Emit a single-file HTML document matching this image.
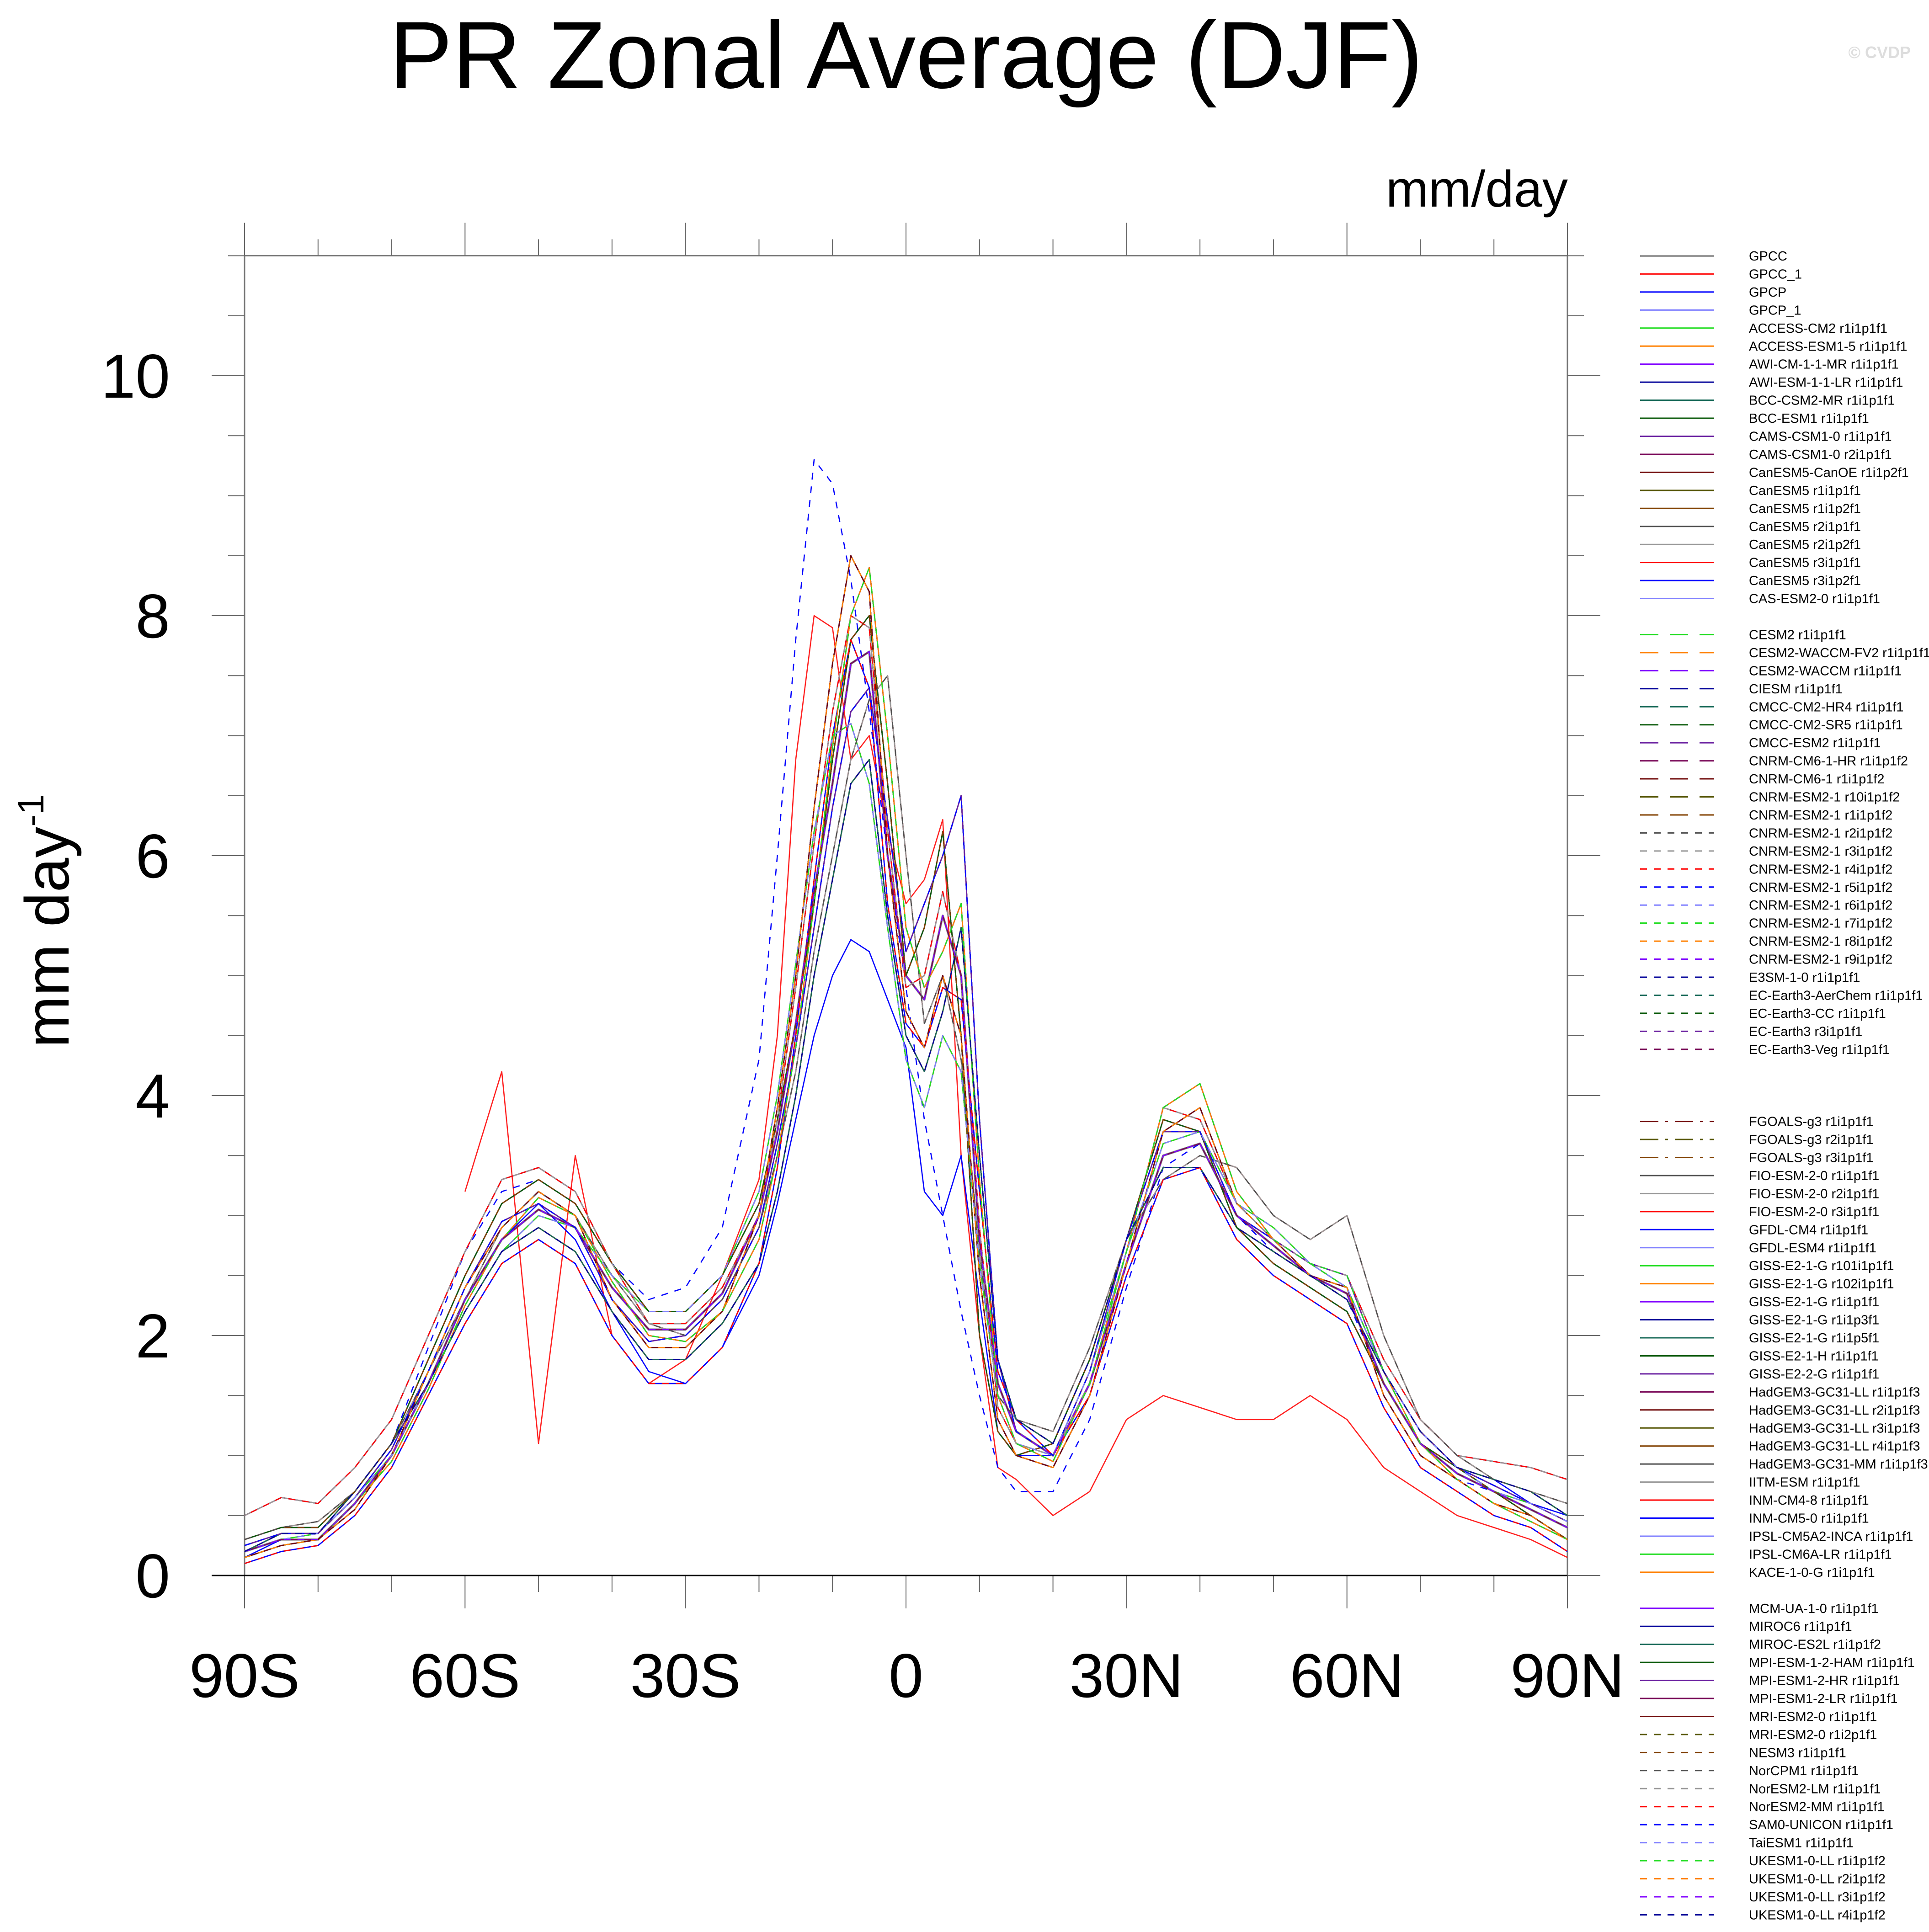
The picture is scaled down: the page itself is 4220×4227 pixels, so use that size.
<!DOCTYPE html>
<html><head><meta charset="utf-8"><style>
html,body{margin:0;padding:0;background:#fff;}
svg{display:block;}
text{font-family:"Liberation Sans",sans-serif;}
.leg{font-family:"Liberation Sans Narrow","Liberation Sans",sans-serif;font-size:29px;}
</style></head><body>
<svg id="chart" width="4220" height="4227" viewBox="0 0 4220 4227">
<text x="1982" y="192" text-anchor="middle" font-size="208">PR Zonal Average (DJF)</text>
<text x="4180" y="127" text-anchor="end" font-size="36" font-weight="bold" fill="#dddddd">© CVDP</text>
<text x="3430" y="452" text-anchor="end" font-size="112">mm/day</text>
<text transform="translate(150,2015) rotate(-90)" text-anchor="middle" font-size="136">mm day<tspan dy="-55" font-size="80">-1</tspan></text>
<g id="axes"></g>
<g id="series"></g>
<g id="legend"></g>
</svg>
<script>
const lats=[-90,-85,-80,-75,-70,-65,-60,-55,-50,-45,-40,-35,-30,-25,-20,-17.5,-15,-12.5,-10,-7.5,-5,-2.5,0,2.5,5,7.5,10,12.5,15,20,25,30,35,40,45,50,55,60,65,70,75,80,85,90];
const sA=[0.2,0.3,0.3,0.6,1.0,1.6,2.3,2.8,3.05,2.9,2.4,2.05,2.05,2.35,3.0,3.7,4.6,5.7,6.6,7.6,7.7,6.0,5.0,4.8,5.5,5.0,2.8,1.6,1.2,1.0,1.6,2.6,3.5,3.6,3.0,2.75,2.5,2.35,1.6,1.1,0.85,0.7,0.55,0.4];
const sB=[0.15,0.25,0.3,0.55,1.0,1.7,2.4,2.9,3.2,3.0,2.3,1.9,1.9,2.2,3.0,3.9,5.0,6.4,7.6,8.5,8.2,6.0,4.7,4.4,5.0,4.5,2.5,1.3,1.0,0.9,1.5,2.6,3.7,3.9,3.1,2.8,2.5,2.4,1.5,1.0,0.8,0.6,0.5,0.3];
const sC=[0.2,0.35,0.35,0.7,1.1,1.6,2.2,2.7,2.9,2.7,2.2,1.8,1.8,2.1,2.6,3.2,4.0,5.0,5.8,6.6,6.8,5.5,4.5,4.2,4.7,5.4,3.5,1.8,1.3,1.1,1.8,2.8,3.4,3.4,2.9,2.7,2.5,2.3,1.7,1.2,0.9,0.8,0.7,0.5];
const sD=[0.3,0.4,0.4,0.7,1.1,1.8,2.5,3.1,3.3,3.1,2.6,2.2,2.2,2.5,3.1,3.8,4.6,5.6,6.8,7.8,8.0,6.6,5.0,5.4,6.2,4.5,2.0,1.2,1.0,1.1,1.8,2.8,3.8,3.7,2.9,2.6,2.4,2.2,1.6,1.1,0.9,0.7,0.5,0.3];
const sE=[0.15,0.3,0.3,0.6,1.0,1.6,2.3,2.8,3.1,2.8,2.2,1.7,1.6,1.9,2.5,3.1,3.8,4.5,5.0,5.3,5.2,4.8,4.4,3.2,3.0,3.5,2.3,1.2,1.0,1.0,1.6,2.6,3.5,3.6,3.0,2.8,2.6,2.4,1.7,1.2,0.9,0.8,0.6,0.5];
const sF=[0.2,0.3,0.35,0.7,1.1,1.9,2.7,3.2,3.3,3.1,2.6,2.3,2.4,2.9,4.3,6.0,7.8,9.3,9.1,8.3,7.2,6.0,4.9,3.8,3.0,2.2,1.5,0.9,0.7,0.7,1.3,2.4,3.4,3.6,3.0,2.7,2.5,2.3,1.6,1.1,0.8,0.7,0.6,0.5];
const sG=[null,null,null,null,null,null,3.2,4.2,1.1,3.5,2.0,1.6,1.8,2.5,3.3,4.5,6.8,8.0,7.9,6.8,7.0,6.2,5.6,5.8,6.3,3.5,2.0,0.9,0.8,0.5,0.7,1.3,1.5,1.4,1.3,1.3,1.5,1.3,0.9,0.7,0.5,0.4,0.3,0.15];
const sH=[0.3,0.4,0.45,0.7,1.1,1.7,2.3,2.9,3.2,3.0,2.5,2.1,2.0,2.3,2.9,3.5,4.2,5.2,6.0,6.8,7.3,7.5,6.0,4.6,5.0,4.3,2.7,1.5,1.3,1.2,1.9,2.8,3.3,3.5,3.4,3.0,2.8,3.0,2.0,1.3,1.0,0.8,0.7,0.6];
const sI=[0.5,0.65,0.6,0.9,1.3,2.0,2.7,3.3,3.4,3.2,2.6,2.1,2.1,2.4,3.0,3.8,4.9,6.1,7.2,8.0,7.9,6.2,4.9,5.0,5.7,5.0,2.9,1.4,1.1,1.0,1.6,2.7,3.9,3.8,3.1,2.8,2.6,2.5,1.8,1.3,1.0,0.95,0.9,0.8];
const sJ=[0.1,0.2,0.25,0.5,0.9,1.5,2.1,2.6,2.8,2.6,2.0,1.6,1.6,1.9,2.6,3.4,4.5,5.8,7.0,7.8,7.4,5.6,4.6,4.4,4.9,4.8,3.2,1.7,1.3,1.0,1.5,2.5,3.3,3.4,2.8,2.5,2.3,2.1,1.4,0.9,0.7,0.5,0.4,0.2];
const sK=[0.25,0.35,0.35,0.65,1.05,1.7,2.4,2.95,3.1,2.9,2.3,1.95,2.0,2.3,2.9,3.6,4.4,5.4,6.4,7.2,7.4,6.3,5.2,5.6,6.0,6.5,3.8,1.8,1.2,1.0,1.7,2.8,3.7,3.7,3.0,2.8,2.6,2.5,1.7,1.2,0.9,0.75,0.6,0.45];
const sL=[0.2,0.3,0.35,0.65,1.0,1.6,2.2,2.7,3.0,2.9,2.5,2.2,2.2,2.5,3.2,4.0,5.1,6.2,7.0,7.1,6.6,5.4,4.3,3.9,4.5,4.2,2.6,1.5,1.1,1.0,1.7,2.7,3.6,3.7,3.1,2.9,2.6,2.4,1.7,1.2,0.9,0.7,0.6,0.45];
const sM=[0.15,0.25,0.3,0.6,0.95,1.55,2.25,2.8,3.15,3.0,2.45,2.0,1.95,2.2,2.8,3.5,4.4,5.6,6.9,8.0,8.4,7.0,5.4,4.9,5.2,5.6,3.3,1.5,1.1,0.95,1.6,2.7,3.9,4.1,3.2,2.8,2.6,2.5,1.7,1.1,0.8,0.6,0.45,0.3];
const sZ=[0.02,0.02,0.02,0.02,0.02,0.02,0.02,0.02,0.02,0.02,0.02,0.02,0.02,0.02,0.02,0.02,0.02,0.02,0.02,0.02,0.02,0.02,0.02,0.02,0.02,0.02,0.02,0.02,0.02,0.02,0.02,0.02,0.02,0.02,0.02,0.02,0.02,0.02,0.02,0.02,0.02,0.02,0.02,0.02];
const modelNames=["GPCC","GPCC_1","GPCP","GPCP_1","ACCESS-CM2 r1i1p1f1","ACCESS-ESM1-5 r1i1p1f1","AWI-CM-1-1-MR r1i1p1f1","AWI-ESM-1-1-LR r1i1p1f1","BCC-CSM2-MR r1i1p1f1","BCC-ESM1 r1i1p1f1","CAMS-CSM1-0 r1i1p1f1","CAMS-CSM1-0 r2i1p1f1","CanESM5-CanOE r1i1p2f1","CanESM5 r1i1p1f1","CanESM5 r1i1p2f1","CanESM5 r2i1p1f1","CanESM5 r2i1p2f1","CanESM5 r3i1p1f1","CanESM5 r3i1p2f1","CAS-ESM2-0 r1i1p1f1",
"CESM2 r1i1p1f1","CESM2-WACCM-FV2 r1i1p1f1","CESM2-WACCM r1i1p1f1","CIESM r1i1p1f1","CMCC-CM2-HR4 r1i1p1f1","CMCC-CM2-SR5 r1i1p1f1","CMCC-ESM2 r1i1p1f1","CNRM-CM6-1-HR r1i1p1f2","CNRM-CM6-1 r1i1p1f2","CNRM-ESM2-1 r10i1p1f2","CNRM-ESM2-1 r1i1p1f2","CNRM-ESM2-1 r2i1p1f2","CNRM-ESM2-1 r3i1p1f2","CNRM-ESM2-1 r4i1p1f2","CNRM-ESM2-1 r5i1p1f2","CNRM-ESM2-1 r6i1p1f2","CNRM-ESM2-1 r7i1p1f2","CNRM-ESM2-1 r8i1p1f2","CNRM-ESM2-1 r9i1p1f2","E3SM-1-0 r1i1p1f1","EC-Earth3-AerChem r1i1p1f1","EC-Earth3-CC r1i1p1f1","EC-Earth3 r3i1p1f1","EC-Earth3-Veg r1i1p1f1",
"FGOALS-g3 r1i1p1f1","FGOALS-g3 r2i1p1f1","FGOALS-g3 r3i1p1f1","FIO-ESM-2-0 r1i1p1f1","FIO-ESM-2-0 r2i1p1f1","FIO-ESM-2-0 r3i1p1f1","GFDL-CM4 r1i1p1f1","GFDL-ESM4 r1i1p1f1","GISS-E2-1-G r101i1p1f1","GISS-E2-1-G r102i1p1f1","GISS-E2-1-G r1i1p1f1","GISS-E2-1-G r1i1p3f1","GISS-E2-1-G r1i1p5f1","GISS-E2-1-H r1i1p1f1","GISS-E2-2-G r1i1p1f1","HadGEM3-GC31-LL r1i1p1f3","HadGEM3-GC31-LL r2i1p1f3","HadGEM3-GC31-LL r3i1p1f3","HadGEM3-GC31-LL r4i1p1f3","HadGEM3-GC31-MM r1i1p1f3","IITM-ESM r1i1p1f1","INM-CM4-8 r1i1p1f1","INM-CM5-0 r1i1p1f1","IPSL-CM5A2-INCA r1i1p1f1","IPSL-CM6A-LR r1i1p1f1","KACE-1-0-G r1i1p1f1",
"MCM-UA-1-0 r1i1p1f1","MIROC6 r1i1p1f1","MIROC-ES2L r1i1p1f2","MPI-ESM-1-2-HAM r1i1p1f1","MPI-ESM1-2-HR r1i1p1f1","MPI-ESM1-2-LR r1i1p1f1","MRI-ESM2-0 r1i1p1f1","MRI-ESM2-0 r1i2p1f1","NESM3 r1i1p1f1","NorCPM1 r1i1p1f1","NorESM2-LM r1i1p1f1","NorESM2-MM r1i1p1f1","SAM0-UNICON r1i1p1f1","TaiESM1 r1i1p1f1","UKESM1-0-LL r1i1p1f2","UKESM1-0-LL r2i1p1f2","UKESM1-0-LL r3i1p1f2","UKESM1-0-LL r4i1p1f2"];
const yTicks=[0,2,4,6,8,10];
const xTicks=[-90,-60,-30,0,30,60,90];
const xTickLabels=["90S","60S","30S","0","30N","60N","90N"];

const NS="http://www.w3.org/2000/svg";
const L=535,R=3429,T=559.5,B=3447,YMAX=11;
function xs(lat){return L+(lat+90)/180*(R-L);}
function ys(v){return B-v/YMAX*(B-T);}
function mk(tag,attrs,parent){const e=document.createElementNS(NS,tag);for(const k in attrs)e.setAttribute(k,attrs[k]);parent.appendChild(e);return e;}

const ax=document.getElementById('axes');
let fr=mk('rect',{x:L,y:T,width:R-L,height:B-T,fill:'none',stroke:'#777',"stroke-width":3},ax);


for(let lat=-90;lat<=90;lat+=10){
  const maj=(lat%30===0);const len=maj?72:36;const x=xs(lat);
  const t1=mk('line',{x1:x,x2:x,y1:B,y2:B+len,stroke:'#666',"stroke-width":2},ax);
  
  
  const t2=mk('line',{x1:x,x2:x,y1:T,y2:T-len,stroke:'#666',"stroke-width":2},ax);
  
  
}
xTicks.forEach((lat,i)=>{
  const t=mk('text',{x:xs(lat),y:3713,"text-anchor":"middle","font-size":136},ax);
  t.textContent=xTickLabels[i];
  
  
});
for(let v=0;v<=11.001;v+=0.5){
  const maj=(Math.abs(v%2)<1e-6);const len=maj?72:36;const y=ys(v);
  const t1=mk('line',{x1:L,x2:L-len,y1:y,y2:y,stroke:'#666',"stroke-width":2},ax);
  
  
  const t2=mk('line',{x1:R,x2:R+len,y1:y,y2:y,stroke:'#666',"stroke-width":2},ax);
  
  
}
yTicks.forEach(v=>{
  const t=mk('text',{x:372,y:ys(v)+48,"text-anchor":"end","font-size":136},ax);
  t.textContent=String(v);
  
  
});
const zl=mk('line',{x1:L-72,x2:R,y1:B,y2:B,stroke:'#000',"stroke-width":3},ax);



const palette=["#22dd22","#ff8000","#8000ff","#000099","#1a6b5a","#0a5a0a","#6a20a0","#7a0a5a","#700a0a","#5a5a0a","#804000","#505050","#999999","#ff0000","#0000ff","#8080ff"];
const cycle=[sA,sB,sC,sD,sH,sI,sJ,sK,sL,sM,sB,sA,sC,sD,sK];
function styleFor(i){
  if(i<20) return "";
  if(i<31) return "40,25";
  if(i<44) return "15,15";
  if(i<47) return "40,15,6,15";
  if(i<77) return "";
  return "15,15";
}
function colorFor(i){
  if(i===0) return "#999999";
  if(i===1) return "#ff2020";
  if(i===2) return "#0000ff";
  if(i===3) return "#8080ff";
  return palette[(i-4)%palette.length];
}
function seriesFor(i){
  if(i===1) return sG;
  if(i===2) return sE;
  if(i===34) return sF;
  if(i===90) return sZ;
  return cycle[i%cycle.length];
}
const sg=document.getElementById('series');
modelNames.forEach((name,i)=>{
  const s=seriesFor(i);let d="";let pen=false;
  s.forEach((v,j)=>{if(v===null){pen=false;return;}d+=(pen?"L":"M")+xs(lats[j]).toFixed(1)+" "+ys(v).toFixed(1);pen=true;});
  const p=mk('path',{d:d,fill:'none',stroke:colorFor(i),"stroke-width":i===0?5:2.6,"stroke-dasharray":styleFor(i),"stroke-linejoin":"round"},sg);
  
  
});
const lg=document.getElementById('legend');
function slotFor(i){if(i<20)return i;if(i<44)return i+1;if(i<70)return i+4;return i+5;}
modelNames.forEach((name,i)=>{
  const y=560+39.45*slotFor(i);
  const ln=mk('line',{x1:3588,x2:3750,y1:y,y2:y,stroke:colorFor(i),"stroke-width":i===0?4:3,"stroke-dasharray":styleFor(i)},lg);
  
  
  const t=mk('text',{x:3826,y:y+10,"class":"leg"},lg);
  t.textContent=name;
  
  
});
</script>
</body></html>
